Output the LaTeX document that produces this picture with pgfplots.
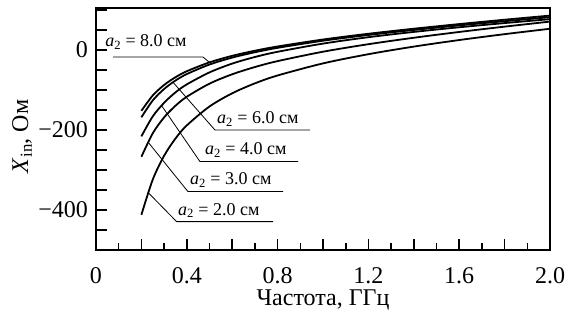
\documentclass[border=0pt]{standalone}
\usepackage{fontspec}
\setmainfont{Liberation Serif}
\usepackage{pgfplots}
\pgfplotsset{compat=1.18}

\pgfplotstableread{
f X
0.2 -152.0
0.25 -113.7
0.3 -87.5
0.35 -68.1
0.4 -53.1
0.5 -30.9
0.6 -14.6
0.7 -1.8
0.8 8.8
1.0 26.2
1.2 40.6
1.4 53.2
1.6 64.8
1.8 75.7
2.0 86.0
}\aeight
\pgfplotstableread{
f X
0.2 -168.2
0.25 -126.1
0.3 -97.5
0.35 -76.4
0.4 -60.2
0.5 -36.3
0.6 -19.0
0.7 -5.6
0.8 5.4
1.0 23.2
1.2 37.6
1.4 50.1
1.6 61.5
1.8 72.0
2.0 82.0
}\asix
\pgfplotstableread{
f X
0.2 -215.9
0.25 -166.0
0.3 -132.0
0.35 -106.0
0.4 -86.0
0.5 -56.0
0.6 -34.0
0.7 -17.5
0.8 -4.5
1.0 16.0
1.2 32.0
1.4 45.2
1.6 56.8
1.8 67.3
2.0 77.1
}\afour
\pgfplotstableread{
f X
0.2 -266.9
0.25 -208.3
0.3 -168.5
0.35 -139.4
0.4 -116.9
0.5 -84.1
0.6 -60.7
0.7 -42.6
0.8 -27.8
1.0 -4.3
1.2 14.5
1.4 30.6
1.6 45.1
1.8 58.4
2.0 71.0
}\athree
\pgfplotstableread{
f X
0.2 -412.0
0.25 -323.9
0.3 -264.5
0.35 -221.4
0.4 -188.5
0.5 -141.2
0.6 -108.2
0.7 -83.4
0.8 -63.7
1.0 -33.5
1.2 -10.5
1.4 8.5
1.6 24.9
1.8 39.6
2.0 53.1
}\atwo

\newcommand{\lab}[1]{\textit{a}\textsubscript{2} = #1 см}

\begin{document}
\begin{tikzpicture}
\begin{axis}[
  name=ax,
  scale only axis, width=454bp, height=242bp,
  xmin=0, xmax=2, ymin=-500, ymax=105,
  axis line style={line width=1.4bp},
  tick pos=left, tick align=inside,
  xtick={0,0.2,0.4,0.6,0.8,1.0,1.2,1.4,1.6,1.8,2.0},
  xticklabels={0,,0.4,,0.8,,1.2,,1.6,,2.0},
  minor xtick={0.1,0.3,0.5,0.7,0.9,1.1,1.3,1.5,1.7,1.9},
  ytick={-500,-450,-400,-350,-300,-250,-200,-150,-100,-50,0,50,100},
  yticklabels={,,−400,,,,−200,,,,0,,},
  major tick length=11bp, minor tick length=7bp,
  tick style={line width=1.6bp, black},
  ticklabel style={font=\fontsize{24bp}{28bp}\selectfont},
  xticklabel style={anchor=north, inner sep=0pt, yshift=-17bp},
  yticklabel style={anchor=east, inner sep=0pt, xshift=-8bp},
  xlabel={Частота, ГГц},
  ylabel={\textit{X}\textsubscript{in}, Ом},
  label style={font=\fontsize{24bp}{28bp}\selectfont},
  xlabel style={at={(axis description cs:0.5,-0.231)}, anchor=base},
  ylabel style={at={(axis description cs:-0.163,0.47)}, anchor=center},
]
\addplot[black, line width=1.8bp, smooth, no markers] table[x=f,y=X] {\aeight};
\addplot[black, line width=1.8bp, smooth, no markers] table[x=f,y=X] {\asix};
\addplot[black, line width=1.8bp, smooth, no markers] table[x=f,y=X] {\afour};
\addplot[black, line width=1.8bp, smooth, no markers] table[x=f,y=X] {\athree};
\addplot[black, line width=1.8bp, smooth, no markers] table[x=f,y=X] {\atwo};

\begin{scope}[line width=0.8bp]
\draw (axis cs:0.075,-17.5) -- (axis cs:0.471,-17.5) -- (axis cs:0.50,-31);
\draw (axis cs:0.943,-200) -- (axis cs:0.524,-200) -- (axis cs:0.339,-80.6);
\draw (axis cs:0.890,-279) -- (axis cs:0.458,-279) -- (axis cs:0.289,-139);
\draw (axis cs:0.824,-354) -- (axis cs:0.405,-354) -- (axis cs:0.229,-230);
\draw (axis cs:0.780,-429) -- (axis cs:0.355,-429) -- (axis cs:0.229,-356);
\end{scope}
\begin{scope}[every node/.style={anchor=base west, inner sep=0pt, font=\fontsize{18bp}{22bp}\selectfont}]
\node at (axis cs:0.040,7.5) {\lab{8.0}};
\node at (axis cs:0.533,-185) {\lab{6.0}};
\node at (axis cs:0.480,-262.5) {\lab{4.0}};
\node at (axis cs:0.414,-337.5) {\lab{3.0}};
\node at (axis cs:0.361,-412.5) {\lab{2.0}};
\end{scope}
\end{axis}
\pgfresetboundingbox
\path[use as bounding box] ([shift={(-96bp,-63bp)}]ax.south west) rectangle ([shift={(472bp,250bp)}]ax.south west);
\end{tikzpicture}
\end{document}
